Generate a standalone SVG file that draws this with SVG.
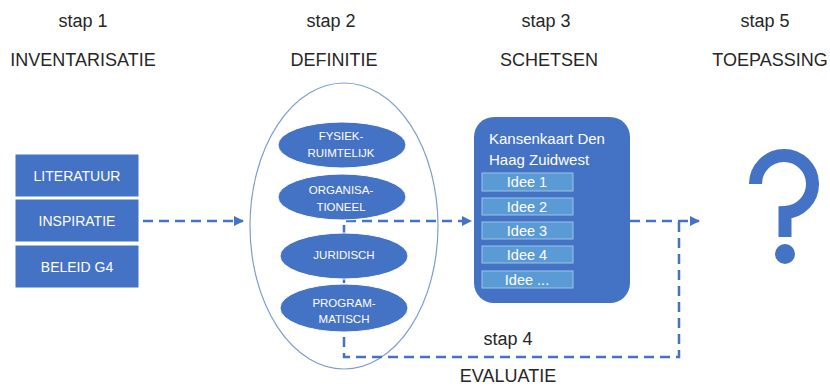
<svg xmlns="http://www.w3.org/2000/svg" width="830" height="387" viewBox="0 0 830 387">
<style>
.title{font-family:"Liberation Sans",Arial,sans-serif;font-size:18px;fill:#262626;text-anchor:middle}
.box{fill:#4472C4;stroke:#ffffff;stroke-width:1}
.boxt{font-family:"Liberation Sans",Arial,sans-serif;font-size:14px;fill:#ffffff;text-anchor:middle}
.oval{fill:#4472C4;stroke:#ffffff;stroke-width:1}
.ovt{font-family:"Liberation Sans",Arial,sans-serif;font-size:11.5px;fill:#ffffff;text-anchor:middle}
.idee{fill:#5B9BD5;stroke:#9DC3E6;stroke-width:1}
.ideet{font-family:"Liberation Sans",Arial,sans-serif;font-size:14.5px;fill:#ffffff;text-anchor:middle}
.dash{fill:none;stroke:#4472C4;stroke-width:2.5;stroke-dasharray:10 6}
</style>
<defs>
<marker id="arr" viewBox="0 0 10 10" refX="9" refY="5" markerWidth="4" markerHeight="4" orient="auto" markerUnits="strokeWidth">
<path d="M0 0 L10 5 L0 10 Z" fill="#4472C4"/>
</marker>
</defs>
<rect width="830" height="387" fill="#ffffff"/>

<g id="titles">
<text class="title" x="83" y="27">stap 1</text>
<text class="title" x="83" y="66">INVENTARISATIE</text>
<text class="title" x="331" y="27">stap 2</text>
<text class="title" x="334" y="66">DEFINITIE</text>
<text class="title" x="546" y="27">stap 3</text>
<text class="title" x="549" y="66">SCHETSEN</text>
<text class="title" x="765" y="27">stap 5</text>
<text class="title" x="770" y="66">TOEPASSING</text>
<text class="title" x="508" y="345">stap 4</text>
<text class="title" x="508" y="382">EVALUATIE</text>
</g>

<g id="definitie-frame">
<ellipse cx="344" cy="226" rx="94" ry="143" fill="none" stroke="#7F9CD0" stroke-width="1.2"/>
</g>

<g id="connectors">
<path class="dash" d="M143 221 H243" marker-end="url(#arr)"/>
<path class="dash" d="M679 222 V357 H344 V221 H471" marker-end="url(#arr)"/>
<path class="dash" d="M630 221 H699" marker-end="url(#arr)"/>
</g>

<g id="literatuur">
<rect class="box" x="15" y="154" width="124" height="43"/>
<text class="boxt" x="77" y="181">LITERATUUR</text>
</g>
<g id="inspiratie">
<rect class="box" x="15" y="199" width="124" height="43"/>
<text class="boxt" x="77" y="226">INSPIRATIE</text>
</g>
<g id="beleid">
<rect class="box" x="15" y="245" width="124" height="43"/>
<text class="boxt" x="77" y="272">BELEID G4</text>
</g>

<g id="fysiek">
<ellipse class="oval" cx="342" cy="145" rx="64" ry="23"/>
<text class="ovt" x="341" y="140">FYSIEK-</text>
<text class="ovt" x="341" y="157">RUIMTELIJK</text>
</g>
<g id="organisationeel">
<ellipse class="oval" cx="342" cy="197" rx="64" ry="23"/>
<text class="ovt" x="341" y="194">ORGANISA-</text>
<text class="ovt" x="341" y="211">TIONEEL</text>
</g>
<g id="juridisch">
<ellipse class="oval" cx="344" cy="256" rx="64" ry="23"/>
<text class="ovt" x="344" y="259">JURIDISCH</text>
</g>
<g id="programmatisch">
<ellipse class="oval" cx="344" cy="308" rx="64" ry="24"/>
<text class="ovt" x="344" y="307">PROGRAM-</text>
<text class="ovt" x="344" y="323">MATISCH</text>
</g>

<g id="kansenkaart">
<rect x="474" y="117" width="156" height="186" rx="20" ry="20" fill="#4472C4"/>
<text x="489" y="144" font-family="Liberation Sans, Arial, sans-serif" font-size="15" fill="#ffffff">Kansenkaart Den</text>
<text x="489" y="165" font-family="Liberation Sans, Arial, sans-serif" font-size="15" fill="#ffffff">Haag Zuidwest</text>
<rect class="idee" x="482" y="173" width="91" height="18"/>
<text class="ideet" x="527" y="187">Idee 1</text>
<rect class="idee" x="482" y="198" width="91" height="17"/>
<text class="ideet" x="527" y="212">Idee 2</text>
<rect class="idee" x="482" y="222" width="91" height="17"/>
<text class="ideet" x="527" y="236">Idee 3</text>
<rect class="idee" x="482" y="246" width="91" height="17"/>
<text class="ideet" x="527" y="260">Idee 4</text>
<rect class="idee" x="482" y="271" width="91" height="17"/>
<text class="ideet" x="527" y="285">Idee ...</text>
</g>

<g id="toepassing">
<path d="M755.5 184 A28.5 28.5 0 1 1 785 212.5 V237" fill="none" stroke="#4472C4" stroke-width="13"/>
<circle cx="785" cy="254" r="10" fill="#4472C4"/>
</g>
</svg>
